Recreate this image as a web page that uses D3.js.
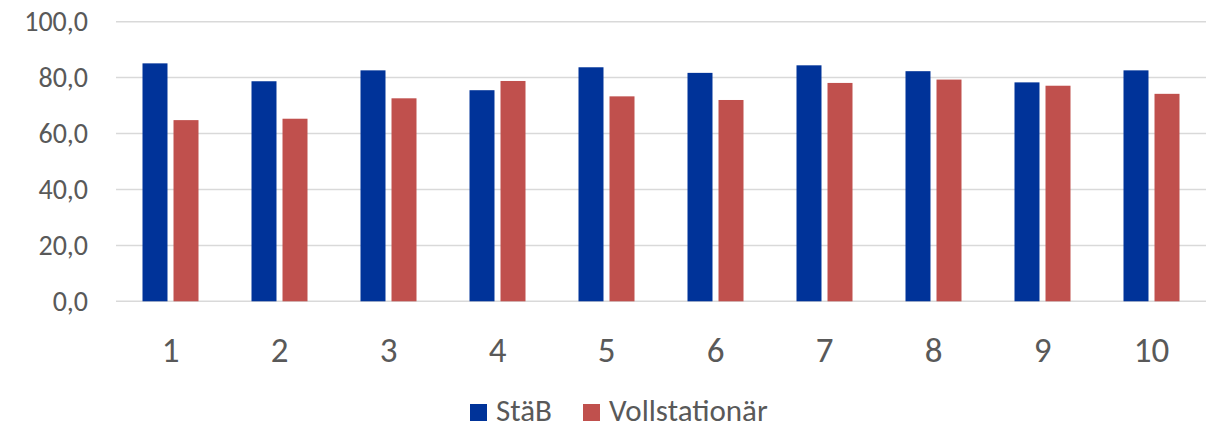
<!DOCTYPE html>
<html>
<head>
<meta charset="utf-8">
<script src="https://cdn.jsdelivr.net/npm/d3@7"></script>
<style>
body { margin: 0; background: #fff; }
svg text { font-family: Carlito, Calibri, "Open Sans", sans-serif; fill: #595959; }
</style>
</head>
<body>
<svg id="chart" width="1206" height="428"></svg>
<script>
// data
var categories = ["1", "2", "3", "4", "5", "6", "7", "8", "9", "10"];
var seriesNames = ["StäB", "Vollstationär"];
var staeb = [85.1, 78.7, 82.6, 75.5, 83.7, 81.7, 84.4, 82.3, 78.3, 82.6];
var vollstationaer = [64.8, 65.3, 72.6, 78.8, 73.3, 72.0, 78.1, 79.3, 77.1, 74.2];
var yTicks = [0, 20, 40, 60, 80, 100];
var colors = ["#003399", "#C0504D"];

var svg = d3.select("#chart");

var x0 = d3.scaleBand().domain(categories).range([116, 1206]);
var groupW = 56;
var x1 = d3.scaleBand().domain(seriesNames).range([0, groupW]).paddingInner(0.194);
var y = d3.scaleLinear().domain([0, 100]).range([301.3, 21.7]);

/// gridlines
svg.append("g")
  .selectAll("line")
  .data(yTicks)
  .join("line")
    .attr("x1", 116).attr("x2", 1206)
    .attr("y1", function(d){ return y(d); })
    .attr("y2", function(d){ return y(d); })
    .attr("stroke", "#d9d9d9")
    .attr("stroke-width", 1.5);

/// y labels
var fmt = function(d){ return d3.format(".1f")(d).replace(".", ","); };
svg.append("g")
  .selectAll("text")
  .data(yTicks)
  .join("text")
    .attr("x", 88)
    .attr("y", function(d){ return y(d); })
    .attr("dy", "0.34em")
    .attr("text-anchor", "end")
    .style("font-size", "28px")
    .text(fmt);

/// bars
var rows = categories.map(function(c, i){
  return {cat: c, vals: [staeb[i], vollstationaer[i]]};
});
var groups = svg.append("g")
  .selectAll("g")
  .data(rows)
  .join("g")
    .attr("transform", function(d){
      return "translate(" + (x0(d.cat) + (x0.bandwidth() - groupW) / 2) + ",0)";
    });
groups.selectAll("rect")
  .data(function(d){ return d.vals.map(function(v, j){ return {s: seriesNames[j], v: v, j: j}; }); })
  .join("rect")
    .attr("x", function(d){ return x1(d.s); })
    .attr("y", function(d){ return y(d.v); })
    .attr("width", x1.bandwidth())
    .attr("height", function(d){ return y(0) - y(d.v); })
    .attr("fill", function(d){ return colors[d.j]; });

/// x labels
svg.append("g")
  .selectAll("text")
  .data(categories)
  .join("text")
    .attr("x", function(d){ return x0(d) + x0.bandwidth() / 2; })
    .attr("y", 362)
    .attr("text-anchor", "middle")
    .style("font-size", "35px")
    .text(function(d){ return d; });

/// legend
var legendX = [470, 583];
var leg = svg.append("g")
  .selectAll("g")
  .data(seriesNames)
  .join("g")
    .attr("transform", function(d, i){ return "translate(" + legendX[i] + ",0)"; });
leg.append("rect")
    .attr("x", 0).attr("y", 404)
    .attr("width", 17).attr("height", 17)
    .attr("fill", function(d, i){ return colors[i]; });
leg.append("text")
    .attr("x", 26).attr("y", 421)
    .style("font-size", "31px")
    .text(function(d){ return d; });
</script>
</body>
</html>
